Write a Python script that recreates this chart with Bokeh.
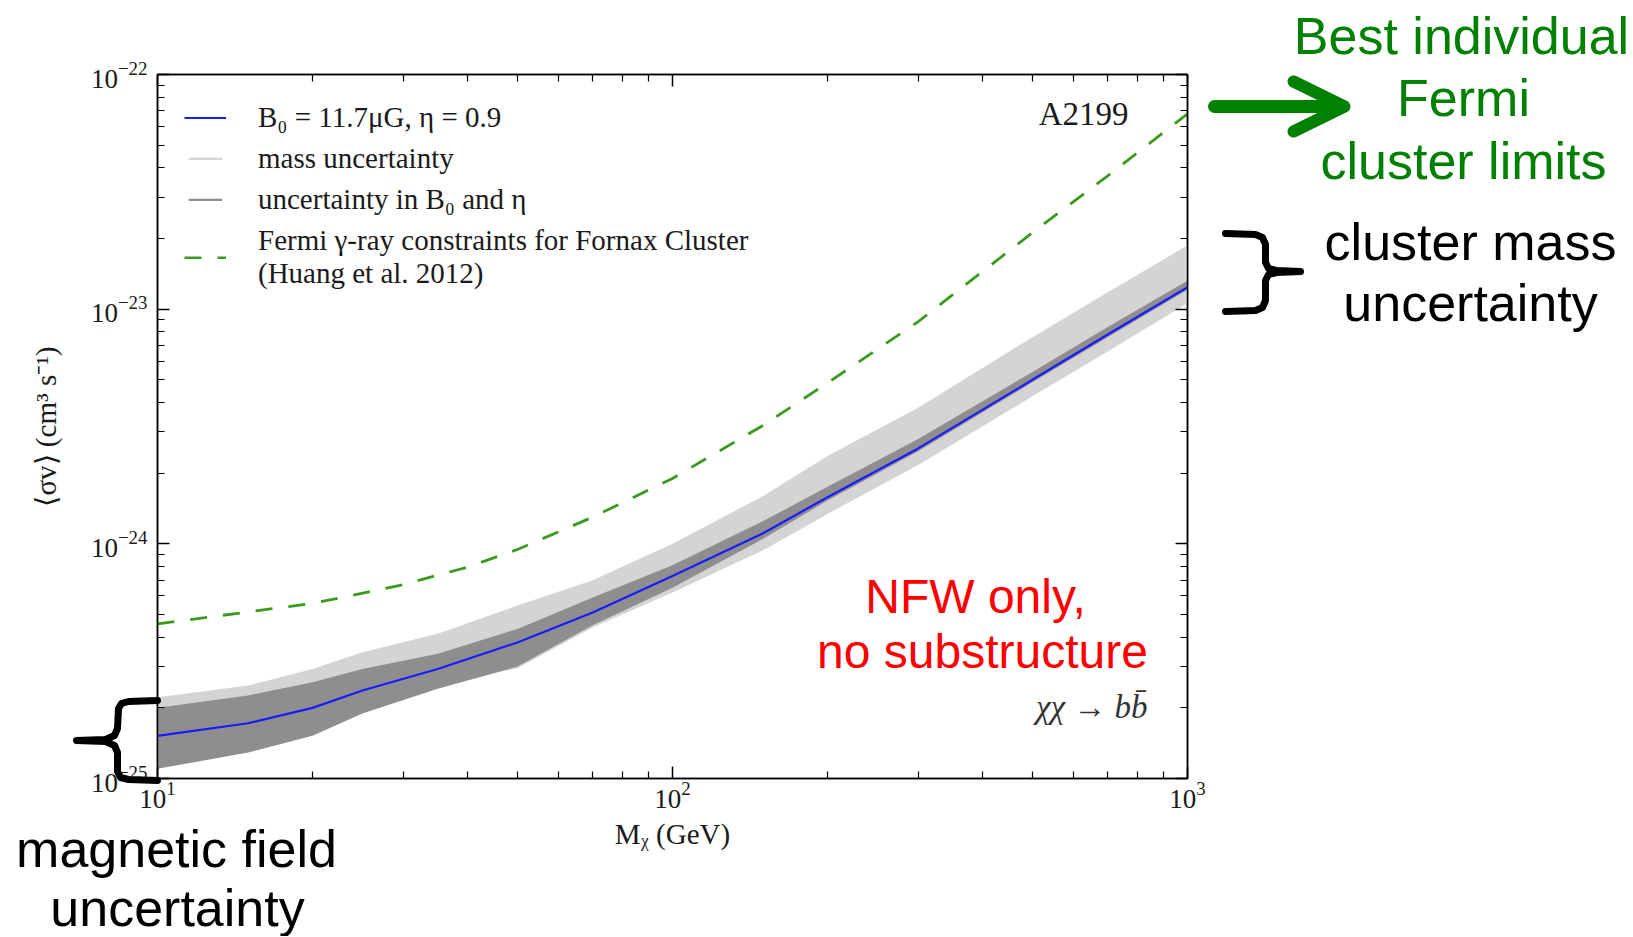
import numpy as np
from bokeh.plotting import figure
from bokeh.layouts import column
from bokeh.core.properties import value
from bokeh.models import (LogAxis, FixedTicker, LogTickFormatter, CustomJSTickFormatter,
                          Label, Legend, LegendItem, Range1d, Column)
from bokeh.embed import file_html
from bokeh.resources import INLINE

# ---------------- data ----------------
mass = [10, 15, 20, 25, 35, 50, 70, 100, 150, 200, 300, 500, 700, 1000]          # GeV
sigv_best = [1.52e-25, 1.72e-25, 2.0e-25, 2.37e-25, 2.93e-25, 3.8e-25, 5.1e-25, 7.3e-25,
             1.11e-24, 1.58e-24, 2.55e-24, 5.0e-24, 7.8e-24, 1.24e-23]
mass_unc_lo = [1.3e-25, 1.47e-25, 1.7e-25, 2.05e-25, 2.5e-25, 2.95e-25, 4.4e-25, 6.2e-25,
               9.4e-25, 1.34e-24, 2.17e-24, 4.25e-24, 6.6e-24, 1.06e-23]
mass_unc_hi = [2.22e-25, 2.49e-25, 2.93e-25, 3.45e-25, 4.14e-25, 5.46e-25, 7.0e-25, 1.0e-24,
               1.6e-24, 2.37e-24, 3.8e-24, 7.6e-24, 1.18e-23, 1.87e-23]
bfield_unc_lo = [1.10e-25, 1.29e-25, 1.52e-25, 1.89e-25, 2.41e-25, 3.0e-25, 4.5e-25, 6.5e-25,
                 1.05e-24, 1.53e-24, 2.48e-24, 4.88e-24, 7.6e-24, 1.21e-23]
bfield_unc_hi = [2.0e-25, 2.26e-25, 2.57e-25, 2.93e-25, 3.4e-25, 4.34e-25, 5.9e-25, 8.1e-25,
                 1.25e-24, 1.75e-24, 2.8e-24, 5.4e-24, 8.4e-24, 1.32e-23]
fermi_mass = [10, 20, 30, 40, 50, 70, 100, 150, 200, 300, 500, 700, 1000]
fermi_limit = [4.56e-25, 5.57e-25, 6.7e-25, 7.96e-25, 9.46e-25, 1.30e-24, 1.9e-24, 3.2e-24,
               4.85e-24, 8.85e-24, 2.12e-23, 3.7e-23, 6.8e-23]

x_major = [10, 100, 1000]
x_minor = [m * d for d in (10, 100) for m in range(2, 10)]
y_major = [1e-25, 1e-24, 1e-23, 1e-22]
y_minor = [m * d for d in (1e-25, 1e-24, 1e-23) for m in range(2, 10)]

legend_labels = ["B\u2080 = 11.7\u03bcG, \u03b7 = 0.9",
                 "mass uncertainty",
                 "uncertainty in B\u2080 and \u03b7",
                 "Fermi \u03b3-ray constraints for Fornax Cluster\n(Huang et al. 2012)"]

green_notes = ["Best individual", "Fermi", "cluster limits"]
black_notes = ["cluster mass", "uncertainty", "magnetic field", "uncertainty"]
red_notes = ["NFW only,", "no substructure"]

# ---------------- layout ----------------
W, H = 1632, 936
FL, FR, FT, FB = 157, 1187, 74, 778   # plot frame in page pixels

p = figure(width=W, height=H, x_axis_type="log", y_axis_type="log",
           x_range=Range1d(10, 1000), y_range=Range1d(1e-25, 1e-22),
           output_backend="svg", toolbar_location=None,
           min_border_left=FL, min_border_right=W - FR,
           min_border_top=FT, min_border_bottom=H - FB)
p.xgrid.visible = False
p.ygrid.visible = False
p.outline_line_color = "black"
p.outline_line_width = 1.5
p.background_fill_color = "white"
p.border_fill_color = "white"

SERIF = "Liberation Serif"
SANS = "Liberation Sans"
TXT = "#1a1a1a"
GREEN = "#008000"


def style_axis(ax, show_labels=True):
    ax.major_tick_in = 12
    ax.major_tick_out = 0
    ax.minor_tick_in = 7
    ax.minor_tick_out = 0
    ax.axis_line_color = "black"
    ax.axis_line_width = 1.5
    ax.major_tick_line_color = "black"
    ax.major_tick_line_width = 1.5
    ax.minor_tick_line_color = "black"
    ax.minor_tick_line_width = 1.2
    ax.major_label_text_font = SERIF
    ax.major_label_text_font_size = "27px"
    ax.major_label_text_color = TXT
    ax.axis_label_text_font = SERIF
    ax.axis_label_text_font_size = "29px"
    ax.axis_label_text_font_style = "normal"
    ax.axis_label_text_color = TXT
    if not show_labels:
        ax.formatter = CustomJSTickFormatter(code="return ''")


p.xaxis.ticker = FixedTicker(ticks=x_major, minor_ticks=x_minor)
p.yaxis.ticker = FixedTicker(ticks=y_major, minor_ticks=y_minor)
p.xaxis.formatter = LogTickFormatter()
p.yaxis.formatter = LogTickFormatter()
style_axis(p.xaxis[0])
style_axis(p.yaxis[0])
p.xaxis.axis_label = "M\u1d6a (GeV)"
p.yaxis.axis_label = "\u27e8\u03c3v\u27e9 (cm\u00b3 s\u207b\u00b9)"
p.xaxis.major_label_standoff = 3
p.yaxis.major_label_standoff = 10
p.xaxis.axis_label_standoff = 7
p.yaxis.axis_label_standoff = 26

top_ax = LogAxis(ticker=FixedTicker(ticks=x_major, minor_ticks=x_minor))
right_ax = LogAxis(ticker=FixedTicker(ticks=y_major, minor_ticks=y_minor))
style_axis(top_ax, False)
style_axis(right_ax, False)
p.add_layout(top_ax, "above")
p.add_layout(right_ax, "right")

# ---------------- data glyphs ----------------
r_light = p.varea(x=mass, y1=mass_unc_lo, y2=mass_unc_hi, fill_color="#d4d4d4")
r_dark = p.varea(x=mass, y1=bfield_unc_lo, y2=bfield_unc_hi, fill_color="#8e8e8e")
r_blue = p.line(mass, sigv_best, line_color="#1a1aff", line_width=2.2)
r_green = p.line(fermi_mass, fermi_limit, line_color="#3a9a1e", line_width=2.8,
                 line_dash="17 16")

legend = Legend(items=[LegendItem(label=legend_labels[0], renderers=[r_blue]),
                       LegendItem(label=legend_labels[1], renderers=[r_light]),
                       LegendItem(label=legend_labels[2], renderers=[r_dark]),
                       LegendItem(label=legend_labels[3], renderers=[r_green])],
                location="top_left")
legend.border_line_alpha = 0
legend.background_fill_alpha = 0
legend.label_text_font = SERIF
legend.label_text_font_size = "29px"
legend.label_text_color = TXT
legend.glyph_width = 42
legend.glyph_height = 3
legend.label_standoff = 32
legend.padding = 27
legend.margin = 0
legend.spacing = 8
p.add_layout(legend, "center")

# in-plot labels
p.add_layout(Label(x=1128, y=113, x_units="canvas", y_units="canvas", text="A2199",
                   text_align="right", text_baseline="middle", text_font=SERIF,
                   text_font_size="33px", text_color=TXT))
p.add_layout(Label(x=1147, y=706, x_units="canvas", y_units="canvas",
                   text="\u03c7\u03c7 \u2192 bb\u0304",
                   text_align="right", text_baseline="middle", text_font=SERIF,
                   text_font_style="italic", text_font_size="33px", text_color="#333333"))
for txt, (cx, cy) in zip(red_notes, [(975, 596), (982, 651)]):
    p.add_layout(Label(x=cx, y=cy, x_units="canvas", y_units="canvas", text=txt,
                       text_align="center", text_baseline="middle", text_font=SANS,
                       text_font_size="48px", text_color="#ff0000"))

# ---------------- slide overlay (transparent figure on top, pixel coordinates) ----------------
ov = figure(width=W, height=H, x_range=Range1d(0, W), y_range=Range1d(H, 0),
            output_backend="svg", toolbar_location=None, min_border=0,
            x_axis_location=None, y_axis_location=None,
            background_fill_color=None, border_fill_color=None, outline_line_color=None)
ov.xgrid.visible = False
ov.ygrid.visible = False
for fig in (p, ov):
    try:
        fig.frame_align = False
    except Exception:
        pass

ov.text(x=[1461, 1463, 1463], y=[35, 97, 160], text=green_notes, text_align="center",
        text_baseline="middle", text_font=value(SANS), text_font_size="52px",
        text_color=GREEN)
ov.text(x=[1470, 1470, 176, 177], y=[241, 302, 848, 907], text=black_notes,
        text_align="center", text_baseline="middle", text_font=value(SANS),
        text_font_size="52px", text_color="black")

# green arrow
ov.line(x=[1214, 1340], y=[106, 106], line_color=GREEN, line_width=13, line_cap="round")
ov.line(x=[1293, 1344, 1293], y=[81, 106, 131], line_color=GREEN, line_width=12,
        line_cap="round", line_join="round")

# braces
ov.line(x=[157, 128, 121, 118, 117, 114, 105, 76, 105, 114, 117, 117, 120, 128, 157],
        y=[700, 701, 703, 708, 728, 735, 739, 740, 741, 745, 752, 771, 777, 779, 780],
        line_color="black", line_width=7, line_cap="round", line_join="round")
ov.line(x=[1225, 1255, 1262, 1265, 1265, 1268, 1276, 1300, 1276, 1268, 1265, 1265, 1262,
           1255, 1225],
        y=[233, 234, 237, 244, 262, 268, 270, 271, 272, 274, 280, 300, 307, 310, 311],
        line_color="black", line_width=7, line_cap="round", line_join="round")

wrapper = Column(children=[ov],
                 styles={"position": "absolute", "left": "0px", "top": "0px", "z-index": "5"})
layout = column(p, wrapper)
open("out.html", "w").write(file_html(layout, INLINE))
